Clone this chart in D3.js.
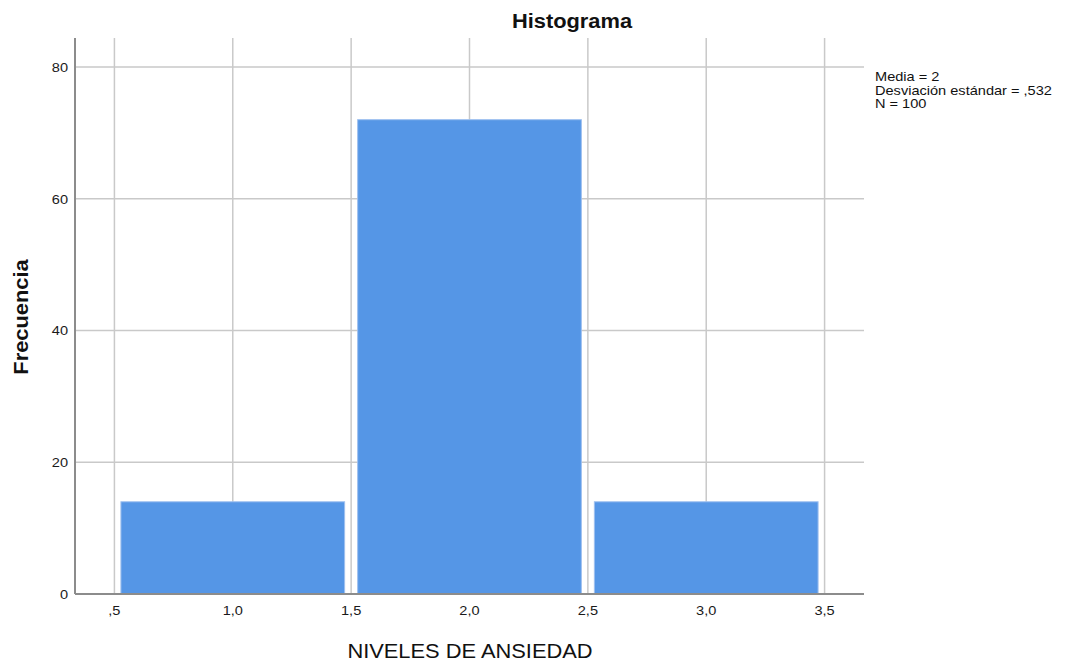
<!DOCTYPE html>
<html>
<head>
<meta charset="utf-8">
<script src="https://cdn.jsdelivr.net/npm/d3@7"></script>
<style>
  html, body { margin: 0; padding: 0; background: #fff; }
  svg { display: block; font-family: "Liberation Sans", Arial, sans-serif; }
</style>
</head>
<body>
<svg id="chart" width="1066" height="661"></svg>
<script>
// ---- data ----
const binStarts = [0.5, 1.5, 2.5];
const binEnds = [1.5, 2.5, 3.5];
const frequencies = [14, 72, 14];
const xTicks = [0.5, 1.0, 1.5, 2.0, 2.5, 3.0, 3.5];
const xTickLabels = [",5", "1,0", "1,5", "2,0", "2,5", "3,0", "3,5"];
const yTicks = [0, 20, 40, 60, 80];
const statsLines = ["Media = 2", "Desviación estándar = ,532", "N = 100"];
const titleText = "Histograma";
const xLabelText = "NIVELES DE ANSIEDAD";
const yLabelText = "Frecuencia";

// ---- layout ----
const svg = d3.select("#chart");
const plotLeft = 75, plotRight = 864, plotTop = 38, plotBottom = 594;
const stretch = 1.12;

const x = d3.scaleLinear().domain([0.3335, 3.6665]).range([plotLeft, plotRight]);
const y = d3.scaleLinear().domain([0, 84.4]).range([plotBottom, plotTop]);

const gridColor = "#c9c9c9";
const axisColor = "#8c8c8c";

// vertical gridlines
svg.append("g").selectAll("line").data(xTicks).join("line")
  .attr("x1", d => x(d)).attr("x2", d => x(d))
  .attr("y1", plotTop).attr("y2", plotBottom)
  .attr("stroke", gridColor).attr("stroke-width", 1.5);

// horizontal gridlines
svg.append("g").selectAll("line").data(yTicks.filter(d => d > 0)).join("line")
  .attr("x1", plotLeft).attr("x2", plotRight)
  .attr("y1", d => y(d)).attr("y2", d => y(d))
  .attr("stroke", gridColor).attr("stroke-width", 1.5);

// bars
const inset = 6.5;
svg.append("g").selectAll("rect").data(frequencies).join("rect")
  .attr("x", (d, i) => x(binStarts[i]) + inset)
  .attr("width", (d, i) => x(binEnds[i]) - x(binStarts[i]) - 2 * inset)
  .attr("y", d => y(d))
  .attr("height", d => y(0) - y(d))
  .attr("fill", "#5596e6")
  .attr("stroke", "#9ec0ef")
  .attr("stroke-width", 1);

// axes lines
svg.append("line").attr("x1", plotLeft).attr("x2", plotLeft).attr("y1", plotTop).attr("y2", plotBottom)
  .attr("stroke", axisColor).attr("stroke-width", 2);
svg.append("line").attr("x1", plotLeft).attr("x2", plotRight).attr("y1", plotBottom).attr("y2", plotBottom)
  .attr("stroke", axisColor).attr("stroke-width", 2);

function stretchText(sel) {
  sel.each(function() {
    const w = this.getComputedTextLength();
    d3.select(this).attr("textLength", w * stretch).attr("lengthAdjust", "spacingAndGlyphs");
  });
}

// y tick labels
svg.append("g").selectAll("text").data(yTicks).join("text")
  .attr("x", 68).attr("y", d => y(d) + 5)
  .attr("text-anchor", "end")
  .attr("font-size", 13).attr("fill", "#1a1a1a")
  .text(d => d)
  .call(stretchText);

// x tick labels
svg.append("g").selectAll("text").data(xTicks).join("text")
  .attr("x", d => x(d)).attr("y", 615)
  .attr("text-anchor", "middle")
  .attr("font-size", 13).attr("fill", "#1a1a1a")
  .text((d, i) => xTickLabels[i])
  .call(stretchText);

// title
svg.append("text").attr("x", 572).attr("y", 28)
  .attr("text-anchor", "middle").attr("font-size", 19.5).attr("font-weight", "bold")
  .attr("fill", "#111").text(titleText).call(stretchText);

// x label
svg.append("text").attr("x", 470).attr("y", 658)
  .attr("text-anchor", "middle").attr("font-size", 19.5)
  .attr("fill", "#111").text(xLabelText).call(stretchText);

// y label
svg.append("text").attr("transform", "translate(28,317) rotate(-90)")
  .attr("text-anchor", "middle").attr("font-size", 19.5).attr("font-weight", "bold")
  .attr("fill", "#111").text(yLabelText).call(stretchText);

// stats block
svg.append("g").selectAll("text").data(statsLines).join("text")
  .attr("x", 875).attr("y", (d, i) => 81 + i * 13.5)
  .attr("font-size", 13).attr("fill", "#111")
  .text(d => d)
  .call(stretchText);
</script>
</body>
</html>
